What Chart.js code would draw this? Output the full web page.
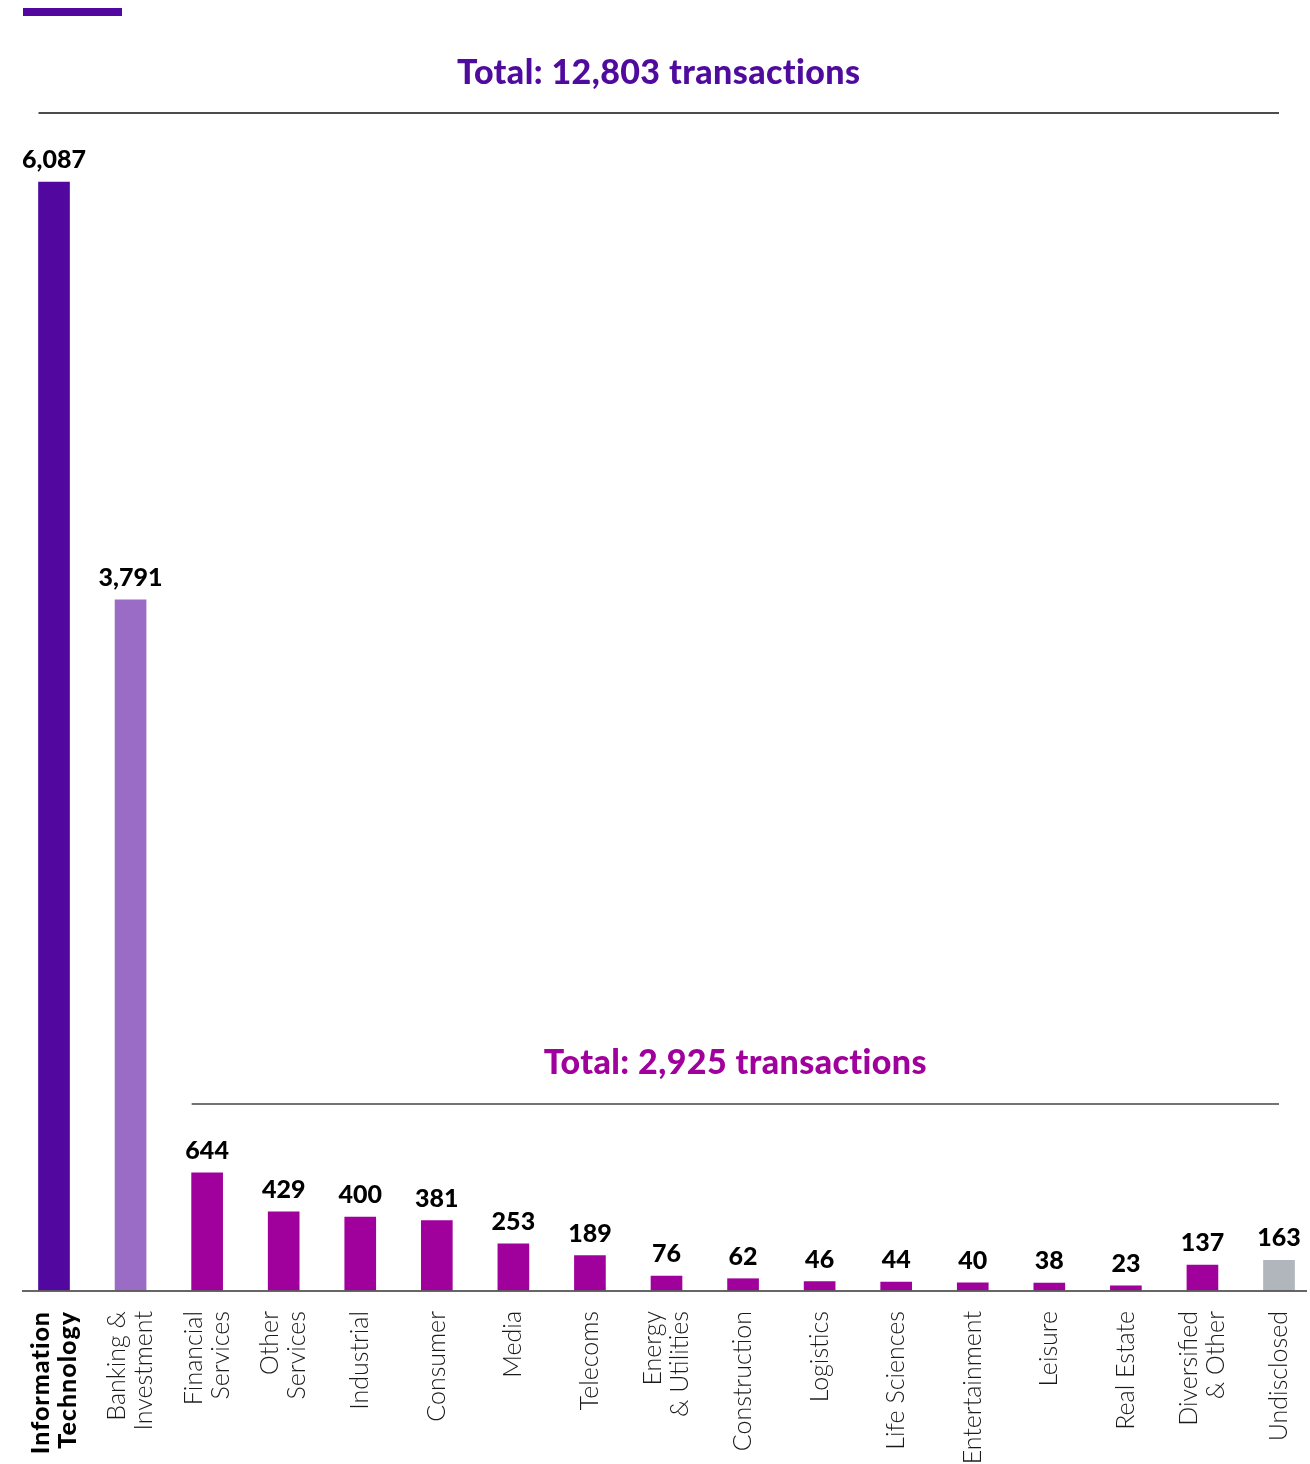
<!DOCTYPE html>
<html>
<head>
<meta charset="utf-8">
<script src="https://cdn.jsdelivr.net/npm/chart.js@4/dist/chart.umd.min.js"></script>
<style>
  html, body { margin: 0; padding: 0; background: #ffffff; }
  #wrap { width: 1310px; height: 1464px; position: relative; }
</style>
</head>
<body>
<div id="wrap"><canvas id="c" width="1310" height="1464"></canvas></div>
<script>
const categories = [
  ['Information', 'Technology'],
  ['Banking &', 'Investment'],
  ['Financial', 'Services'],
  ['Other', 'Services'],
  'Industrial',
  'Consumer',
  'Media',
  'Telecoms',
  ['Energy', '& Utilities'],
  'Construction',
  'Logistics',
  'Life Sciences',
  'Entertainment',
  'Leisure',
  'Real Estate',
  ['Diversified', '& Other'],
  'Undisclosed'
];
const transactions = [6087, 3791, 644, 429, 400, 381, 253, 189, 76, 62, 46, 44, 40, 38, 23, 137, 163];
const totalAll = 'Total: 12,803 transactions';
const totalOther = 'Total: 2,925 transactions';

const PURPLE = '#52089f';
const LILAC = '#9a6cc5';
const MAGENTA = '#a0009b';
const GREY = '#b1b6bd';
const barColors = transactions.map((v, i) => i === 0 ? PURPLE : i === 1 ? LILAC : i === 16 ? GREY : MAGENTA);

const FONT = 'Lato, "Open Sans", sans-serif';

const overlay = {
  id: 'overlay',
  afterDraw(chart) {
    const ctx = chart.ctx;
    const xs = chart.scales.x;
    const ys = chart.scales.y;
    const meta = chart.getDatasetMeta(0);
    ctx.save();
    // accent bar
    ctx.fillStyle = PURPLE;
    ctx.fillRect(23, 8, 99, 8);

    // top header
    const l1 = meta.data[0].x - meta.data[0].width / 2;
    const r1 = xs.getPixelForValue(16);
    ctx.strokeStyle = '#111';
    ctx.lineWidth = 1.5;
    ctx.beginPath(); ctx.moveTo(l1, 113); ctx.lineTo(r1, 113); ctx.stroke();
    ctx.fillStyle = '#4f0a9e';
    ctx.font = '900 34px ' + FONT;
    ctx.letterSpacing = '0.4px';
    ctx.textAlign = 'center';
    ctx.textBaseline = 'middle';
    ctx.fillText(totalAll, (l1 + r1) / 2, 73);

    // second header
    const l2 = meta.data[2].x - meta.data[2].width / 2;
    ctx.strokeStyle = '#444';
    ctx.beginPath(); ctx.moveTo(l2, 1104); ctx.lineTo(r1, 1104); ctx.stroke();
    ctx.fillStyle = MAGENTA;
    ctx.fillText(totalOther, (l2 + r1) / 2, 1063);
    ctx.letterSpacing = '0px';

    // axis line
    const yb = ys.getPixelForValue(0);
    ctx.strokeStyle = '#333';
    ctx.lineWidth = 1.5;
    ctx.beginPath(); ctx.moveTo(22, yb + 1); ctx.lineTo(1307, yb + 1); ctx.stroke();

    // value labels
    ctx.fillStyle = '#000';
    ctx.font = '900 25px ' + FONT;
    ctx.textBaseline = 'alphabetic';
    meta.data.forEach((el, i) => {
      ctx.fillText(transactions[i].toLocaleString('en-US'), el.x, el.y - 14);
    });

    // category labels (rotated, centred on each tick)
    const lh = 27;
    const top = yb + 21;
    categories.forEach((lab, i) => {
      const lines = Array.isArray(lab) ? lab : [lab];
      const cx = xs.getPixelForValue(i);
      lines.forEach((txt, j) => {
        const x = cx + (j - (lines.length - 1) / 2) * lh;
        ctx.save();
        ctx.translate(x, top);
        ctx.rotate(-Math.PI / 2);
        if (i === 0) {
          ctx.font = '900 25px ' + FONT;
          ctx.fillStyle = '#000';
          ctx.letterSpacing = '1px';
        } else {
          ctx.font = '300 25px ' + FONT;
          ctx.fillStyle = '#1a1a1a';
          ctx.letterSpacing = '0px';
        }
        ctx.textAlign = 'right';
        ctx.textBaseline = 'middle';
        ctx.fillText(txt, 0, 0);
        ctx.restore();
      });
    });
    ctx.restore();
  }
};

new Chart(document.getElementById('c'), {
  type: 'bar',
  data: {
    labels: categories,
    datasets: [{
      data: transactions,
      backgroundColor: barColors,
      barThickness: 31,
      clip: false
    }]
  },
  options: {
    responsive: false,
    animation: false,
    events: [],
    layout: { padding: { left: 54, right: 31, top: 182, bottom: 0 } },
    plugins: { legend: { display: false }, tooltip: { enabled: false }, title: { display: false } },
    scales: {
      x: {
        offset: false,
        grid: { display: false, drawTicks: false },
        border: { display: false },
        afterFit(scale) {
          scale.height = 174;
          scale.paddingLeft = 0;
          scale.paddingRight = 0;
        },
        ticks: { display: false, autoSkip: false }
      },
      y: {
        display: false,
        min: 0,
        max: 6087
      }
    }
  },
  plugins: [overlay]
});
</script>
</body>
</html>
